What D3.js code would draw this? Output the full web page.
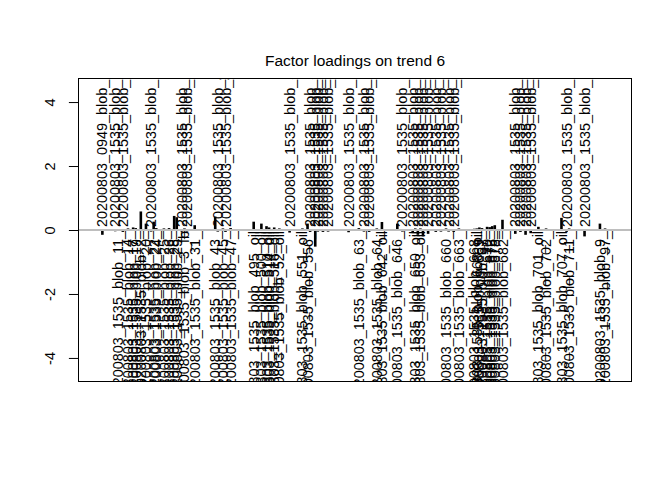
<!DOCTYPE html>
<html><head><meta charset="utf-8">
<script src="https://cdn.jsdelivr.net/npm/d3@7"></script>
<style>body{margin:0;background:#fff} svg{display:block}</style>
</head><body>
<script>
// ---- data ----
const nVars = 200;
const varIndex = [2,7,8,10,12,14,15,17,19,21,22,23,26,28,30,31,33,34,35,38,46,47,49,50,52,61,64,66,67,69,71,75,80,82,83,85,86,88,90,98,102,104,106,109,111,117,119,123,124,125,126,127,129,132,134,136,137,139,141,147,148,149,150,152,153,154,155,158,163,165,167,169,172,175,181,183,184,190,196,198];
const varNames = [
"20200803_0949_blob_28_","20200803_1535_blob_100_","20200803_1535_blob_11_","20200803_1535_blob_115_",
"20200803_1535_blob_14_","20200803_1535_blob_17_","20200803_1535_blob_19_","20200803_1535_blob_2_",
"20200803_1535_blob_20_","20200803_1535_blob_21_","20200803_1535_blob_22_","20200803_1535_blob_24_",
"20200803_1535_blob_25_","20200803_1535_blob_26_","20200803_1535_blob_28_","20200803_1535_blob_29_",
"20200803_1535_blob_294_","20200803_1535_blob_3_fb","20200803_1535_blob_30_","20200803_1535_blob_31_",
"20200803_1535_blob_43_","20200803_1535_blob_44_","20200803_1535_blob_45_","20200803_1535_blob_46_",
"20200803_1535_blob_47_","20200803_1535_blob_495_oil","20200803_1535_blob_500_oil","20200803_1535_blob_510_oil",
"20200803_1535_blob_514_oil","20200803_1535_blob_516_oil","20200803_1535_blob_52_oil","20200803_1535_blob_538_",
"20200803_1535_blob_551_oil","20200803_1535_blob_556_","20200803_1535_blob_56_","20200803_1535_blob_571_",
"20200803_1535_blob_58_","20200803_1535_blob_590_","20200803_1535_blob_6_","20200803_1535_blob_617_",
"20200803_1535_blob_63_","20200803_1535_blob_634_","20200803_1535_blob_638_","20200803_1535_blob_64_",
"20200803_1535_blob_642_oil","20200803_1535_blob_646_","20200803_1535_blob_648_","20200803_1535_blob_649_",
"20200803_1535_blob_650_oil","20200803_1535_blob_651_","20200803_1535_blob_653_oil","20200803_1535_blob_654_",
"20200803_1535_blob_655_","20200803_1535_blob_657_","20200803_1535_blob_658_","20200803_1535_blob_660_",
"20200803_1535_blob_661_","20200803_1535_blob_662_","20200803_1535_blob_663_","20200803_1535_blob_668_",
"20200803_1535_blob_668_oil","20200803_1535_blob_669_","20200803_1535_blob_67_","20200803_1535_blob_670_",
"20200803_1535_blob_672_","20200803_1535_blob_675_","20200803_1535_blob_678_","20200803_1535_blob_682_",
"20200803_1535_blob_69_","20200803_1535_blob_690_","20200803_1535_blob_693_","20200803_1535_blob_697_",
"20200803_1535_blob_701_oil","20200803_1535_blob_702_","20200803_1535_blob_707_oil","20200803_1535_blob_709_",
"20200803_1535_blob_711_","20200803_1535_blob_74_","20200803_1535_blob_9_","20200803_1535_blob_97_"];
const loadings = [
-0.15,-0.04,0.03,-0.06,0.05,0.08,0.06,0.58,
0.20,-0.05,0.26,0.06,0.05,0.06,0.44,0.40,
-0.05,0.05,-0.05,0.15,0.42,-0.05,0.05,-0.06,
0.06,0.26,0.20,0.12,0.08,0.08,0.05,-0.08,
0.05,0.20,-0.06,-0.52,-0.05,-0.06,-0.05,-0.07,
0.06,-0.05,-0.06,0.05,0.25,0.20,-0.05,-0.10,
0.05,-0.15,0.05,-0.20,-0.12,-0.06,-0.05,0.05,
-0.05,-0.06,0.05,0.04,0.05,0.08,0.06,0.10,
0.09,0.12,0.15,0.32,-0.12,-0.06,-0.15,-0.10,
0.10,0.05,0.38,-0.06,0.05,-0.20,0.20,0.05];
const yTicks = [-4,-2,0,2,4];
const yLim = [-4.4, 4.4];
const titleText = "Factor loadings on trend 6";

// ---- drawing ----
const W = 672, H = 480;
const box = {l:78, r:632, t:78, b:382};
const FONT = "'Liberation Sans', Arial, sans-serif";
const GAP_UP = 0.09, GAP_DOWN = 0.03;
const svg = d3.select("body").append("svg").attr("width", W).attr("height", H);

const xPad = 0.04 * nVars;
const x = d3.scaleLinear().domain([0.5 - xPad, nVars + 0.5 + xPad]).range([box.l, box.r]);
const yPad = 0.04 * (yLim[1] - yLim[0]);
const y = d3.scaleLinear().domain([yLim[0] - yPad, yLim[1] + yPad]).range([box.b, box.t]);

svg.append("defs").append("clipPath").attr("id", "plotclip")
  .append("rect").attr("x", box.l).attr("y", box.t)
  .attr("width", box.r - box.l).attr("height", box.b - box.t);

const data = varIndex.map((j, i) => ({j, name: varNames[i], v: loadings[i]}));
const plot = svg.append("g").attr("clip-path", "url(#plotclip)");

// bars (type = "h")
plot.selectAll("line.bar").data(data).enter().append("line")
  .attr("class", "bar")
  .attr("x1", d => x(d.j)).attr("x2", d => x(d.j))
  .attr("y1", y(0)).attr("y2", d => y(d.v))
  .attr("stroke", "#000").attr("stroke-width", 2.6);

// labels
plot.selectAll("text.lab").data(data).enter().append("text")
  .attr("class", "lab")
  .attr("transform", d => `translate(${x(d.j)},${d.v > 0 ? y(-GAP_DOWN) : y(GAP_UP)}) rotate(-90)`)
  .attr("text-anchor", d => d.v > 0 ? "end" : "start")
  .attr("dy", "0.35em")
  .attr("font-family", FONT).attr("font-size", 14.4).attr("fill", "#000")
  .text(d => d.name);

// zero line
plot.append("line")
  .attr("x1", box.l).attr("x2", box.r).attr("y1", y(0)).attr("y2", y(0))
  .attr("stroke", "#bebebe").attr("stroke-width", 2);

// box
svg.append("rect").attr("x", box.l + 0.5).attr("y", box.t + 0.5)
  .attr("width", box.r - box.l - 1).attr("height", box.b - box.t - 1)
  .attr("fill", "none").attr("stroke", "#000").attr("stroke-width", 1);

// y axis
const yAxis = d3.axisLeft(y).tickValues(yTicks).tickSize(9.6).tickPadding(0).tickFormat(d3.format("d"));
const ag = svg.append("g").attr("transform", `translate(${box.l + 0.5},0)`).call(yAxis);
ag.select(".domain").attr("d", `M0,${y(yTicks[0])}V${y(yTicks[yTicks.length-1])}`).attr("stroke", "#000");
ag.selectAll(".tick line").attr("stroke", "#000");
ag.selectAll(".tick text")
  .attr("x", null).attr("dy", null)
  .attr("transform", "translate(-24,0) rotate(-90)")
  .attr("text-anchor", "middle")
  .attr("font-family", FONT).attr("font-size", 14.5).attr("fill", "#000")
  .text(d => d < 0 ? "-" + Math.abs(d) : String(d));

// title
svg.append("text").attr("x", (box.l + box.r) / 2).attr("y", 66)
  .attr("text-anchor", "middle")
  .attr("font-family", FONT).attr("font-size", 15.5).attr("fill", "#000")
  .text(titleText);
</script>
</body></html>
